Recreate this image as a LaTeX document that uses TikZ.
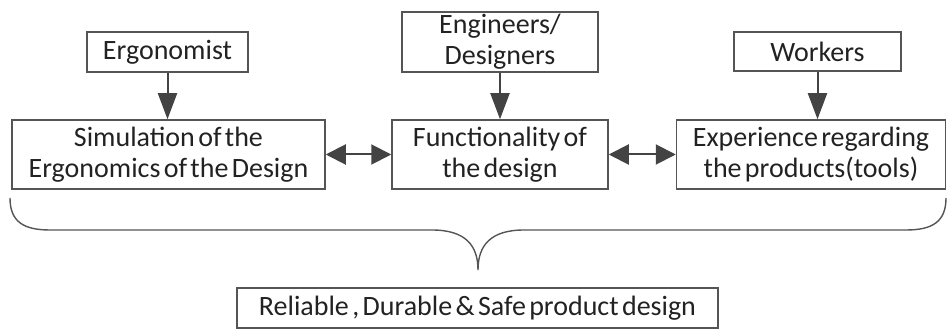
\documentclass[tikz,border=0pt]{standalone}
\usepackage{fontspec}
\setmainfont{Carlito}
\usetikzlibrary{arrows.meta}
\definecolor{boxline}{HTML}{555555}
\definecolor{ink}{HTML}{222222}
% tight word spacing for box labels
\newcommand{\boxlabelfont}{\fontsize{28}{31}\selectfont\spaceskip=0.12em plus 0.05em\relax}
\tikzset{
  box/.style={draw=boxline, line width=1.5pt, text=ink, align=center,
    inner sep=0pt, font=\boxlabelfont},
  flow/.style={draw=ink!85, line width=2pt,
    -{Triangle[length=26pt,width=19pt]}},
  both/.style={draw=ink!85, line width=2pt,
    {Triangle[length=20pt,width=20pt]}-{Triangle[length=20pt,width=20pt]}},
  brace/.style={draw=boxline, line width=1.4pt}
}
\begin{document}
\begin{tikzpicture}[x=1pt,y=-1pt]
  \useasboundingbox (0,0) rectangle (948,336);
  % sources
  \node[box, minimum width=161pt, minimum height=40pt] (erg) at (167.5,52) {Ergonomist};
  \node[box, minimum width=196pt, minimum height=60pt] (eng) at (500,42) {Engineers/\\Designers};
  \node[box, minimum width=167pt, minimum height=39pt] (wrk) at (817.5,51.5) {Workers};
  % middle row
  \node[box, minimum width=313pt, minimum height=69pt] (sim) at (168.5,154.5) {Simulation of the\\Ergonomics of the Design};
  \node[box, minimum width=216pt, minimum height=69pt] (fun) at (500,154.5) {Functionality of\\the design};
  \node[box, minimum width=269pt, minimum height=69pt] (exp) at (811,154.5) {Experience regarding\\the products(tools)};
  % result
  \node[box, minimum width=481pt, minimum height=40pt] (res) at (477.5,308) {Reliable , Durable \& Safe product design};
  % arrows
  \draw[flow] (erg.south) -- (erg.south |- sim.north);
  \draw[flow] (eng.south) -- (eng.south |- fun.north);
  \draw[flow] (wrk.south) -- (wrk.south |- exp.north);
  \draw[both] (sim.east) -- (fun.west);
  \draw[both] (fun.east) -- (exp.west);
  % brace
  \coordinate (bl) at (10,198);
  \coordinate (br) at (946,198);
  \coordinate (tip) at (478,270);
  \draw[brace] (bl) .. controls (10,222) and (24,230) .. (50,230) -- (432,230)
    .. controls (466,230) and (478,246) .. (tip)
    .. controls (478,246) and (490,230) .. (524,230) -- (906,230)
    .. controls (932,230) and (946,222) .. (br);
\end{tikzpicture}
\end{document}
